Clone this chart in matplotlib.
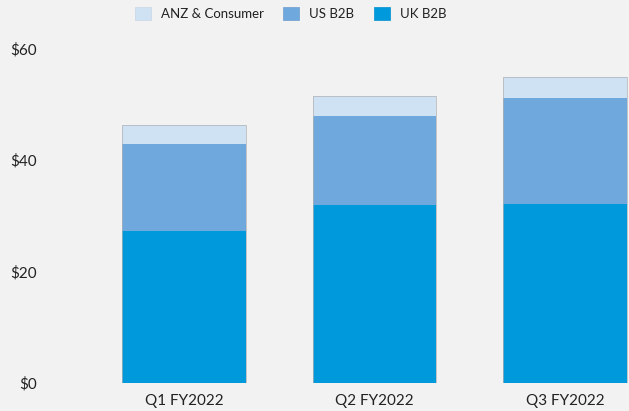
"""Stacked revenue bars by segment per quarter."""

import matplotlib.pyplot as plt
from matplotlib.patches import Patch

plt.rcParams["font.family"] = ["Lato", "DejaVu Sans"]

quarters = ["Q1 FY2022", "Q2 FY2022", "Q3 FY2022"]
uk_b2b = [27.3, 32.0, 32.2]
us_b2b = [15.6, 16.0, 18.9]
anz_consumer = [3.4, 3.6, 3.9]
y_ticks = [0, 20, 40, 60]
y_tick_labels = ["$0", "$20", "$40", "$60"]

BG = "#f2f2f2"
C_UK = "#0099dc"
C_US = "#6fa8dc"
C_ANZ = "#cfe2f3"
TEXT = "#222222"

fig = plt.figure(figsize=(6.29, 4.11), dpi=100, facecolor=BG)
ax = fig.add_axes([48 / 629, 28.3 / 411, 581 / 629, 333.7 / 411])
ax.set_facecolor(BG)

x = range(len(quarters))
width = 0.65
ax.bar(x, uk_b2b, width, color=C_UK, edgecolor="none")
ax.bar(x, us_b2b, width, bottom=uk_b2b, color=C_US, edgecolor="none")
tops = [u + s for u, s in zip(uk_b2b, us_b2b)]
ax.bar(x, anz_consumer, width, bottom=tops, color=C_ANZ, edgecolor="none")
# contorno fino gris alrededor de cada columna
totals = [t + a for t, a in zip(tops, anz_consumer)]
ax.bar(x, totals, width, color="none", edgecolor="#b0b0b0", linewidth=0.5)

ax.set_xlim(-0.714, 2.336)
ax.set_ylim(0, 60)
ax.set_yticks(y_ticks)
ax.set_yticklabels(y_tick_labels)
ax.set_xticks(list(x))
ax.set_xticklabels(quarters)
ax.tick_params(axis="both", length=0, labelsize=11, colors=TEXT)
ax.tick_params(axis="x", pad=8)
ax.tick_params(axis="y", pad=8)
for spine in ax.spines.values():
    spine.set_visible(False)

handles = [
    Patch(facecolor=C_ANZ, edgecolor="#c8d6e4", linewidth=0.5, label="ANZ & Consumer"),
    Patch(facecolor=C_US, edgecolor="#6a9ed0", linewidth=0.5, label="US B2B"),
    Patch(facecolor=C_UK, edgecolor="#0090d0", linewidth=0.5, label="UK B2B"),
]
fig.legend(
    handles=handles,
    loc="center",
    bbox_to_anchor=(0.462, 1 - 13.5 / 411),
    ncol=3,
    frameon=False,
    handlelength=1.2,
    handleheight=1.2,
    handletextpad=0.75,
    columnspacing=1.5,
    fontsize=9.5,
    labelcolor=TEXT,
)

fig.savefig("out.png", dpi=100, facecolor=BG)
